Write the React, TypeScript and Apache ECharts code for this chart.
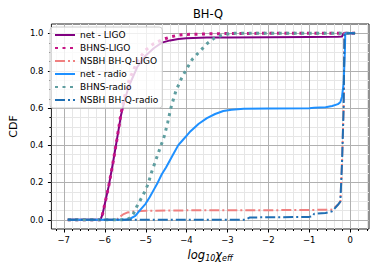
import React, { useEffect, useRef } from 'react';
import * as echarts from 'echarts';

// ---- data (log10 chi_eff, CDF) ----
const netLigoX = [-6.9, -6.1, -6.05, -6.0, -5.9, -5.8, -5.7, -5.6, -5.5, -5.4, -5.2, -5.0, -4.8, -4.6, -4.4, -4.2, -4.0, -3.5, -3.0, -2.0, -1.0, -0.3, -0.2, -0.16, 0.12];
const netLigoY = [0, 0, 0.03, 0.08, 0.18, 0.3, 0.43, 0.56, 0.65, 0.72, 0.82, 0.88, 0.92, 0.95, 0.962, 0.97, 0.973, 0.977, 0.978, 0.979, 0.98, 0.981, 0.983, 1.0, 1.0];

const bhnsLigoX = [-6.9, -6.1, -6.05, -6.0, -5.9, -5.8, -5.7, -5.6, -5.5, -5.4, -5.2, -5.0, -4.8, -4.6, -4.4, -4.2, -4.0, -3.5, -3.0, -2.0, 0.12];
const bhnsLigoY = [0, 0, 0.03, 0.08, 0.18, 0.3, 0.43, 0.57, 0.67, 0.75, 0.85, 0.91, 0.945, 0.965, 0.98, 0.99, 0.994, 0.997, 0.999, 1.0, 1.0];

const nsbhLigoX = [-6.9, -5.7, -5.65, -5.55, -5.45, -5.3, -5.0, -4.0, -3.0, -2.0, -1.0, -0.44, -0.3, -0.24, -0.2, -0.16, -0.14, 0.12];
const nsbhLigoY = [0, 0, 0.012, 0.028, 0.038, 0.044, 0.048, 0.05, 0.05, 0.051, 0.052, 0.054, 0.08, 0.097, 0.3, 0.6, 1.0, 1.0];

const netRadioX = [-6.9, -5.5, -5.38, -5.25, -5.14, -5.0, -4.9, -4.8, -4.7, -4.6, -4.5, -4.4, -4.3, -4.2, -4.1, -4.0, -3.9, -3.7, -3.5, -3.3, -3.1, -2.9, -2.6, -2.0, -1.0, -0.88, -0.6, -0.44, -0.3, -0.24, -0.2, -0.16, -0.13, -0.12, 0.12];
const netRadioY = [0, 0, 0.005, 0.02, 0.05, 0.085, 0.12, 0.16, 0.2, 0.245, 0.28, 0.32, 0.36, 0.4, 0.425, 0.45, 0.475, 0.515, 0.545, 0.567, 0.583, 0.59, 0.595, 0.597, 0.598, 0.6, 0.603, 0.61, 0.62, 0.63, 0.66, 0.73, 0.9, 1.0, 1.0];

const bhnsRadioX = [-6.9, -5.45, -5.35, -5.3, -5.22, -5.14, -5.02, -4.94, -4.86, -4.78, -4.7, -4.62, -4.54, -4.46, -4.38, -4.26, -4.14, -4.02, -3.86, -3.69, -3.49, -3.33, -3.13, -2.9, 0.12];
const bhnsRadioY = [0, 0, 0.015, 0.03, 0.068, 0.1, 0.15, 0.19, 0.25, 0.3, 0.35, 0.4, 0.45, 0.52, 0.6, 0.69, 0.75, 0.8, 0.86, 0.9, 0.946, 0.973, 0.99, 1.0, 1.0];

const nsbhRadioX = [-6.9, -2.55, -2.45, -1.0, -0.92, -0.88, -0.6, -0.44, -0.3, -0.24, -0.2, -0.16, -0.14, 0.12];
const nsbhRadioY = [0, 0, 0.012, 0.015, 0.018, 0.032, 0.036, 0.045, 0.08, 0.097, 0.3, 0.6, 1.0, 1.0];

const seriesNames = ['net - LIGO', 'BHNS-LIGO', 'NSBH BH-Q-LIGO', 'net - radio', 'BHNS-radio', 'NSBH BH-Q-radio'];

// ---- ticks ----
const xMajorTicks = [-7, -6, -5, -4, -3, -2, -1, 0];
const xMinorTicks = [-7.2, -6.8, -6.6, -6.4, -6.2, -5.8, -5.6, -5.4, -5.2, -4.8, -4.6, -4.4, -4.2, -3.8, -3.6, -3.4, -3.2, -2.8, -2.6, -2.4, -2.2, -1.8, -1.6, -1.4, -1.2, -0.8, -0.6, -0.4, -0.2, 0.2, 0.4];
const yMajorTicks = [0, 0.2, 0.4, 0.6, 0.8, 1.0];
const yMinorTicks = [0.05, 0.1, 0.15, 0.25, 0.3, 0.35, 0.45, 0.5, 0.55, 0.65, 0.7, 0.75, 0.85, 0.9, 0.95];

const X_MIN = -7.3;
const X_MAX = 0.46;
const Y_MIN = -0.05;
const Y_MAX = 1.05;

const FONT = 'DejaVu Sans';

function zip(xs: number[], ys: number[]) {
  return xs.map((x, i) => [x, ys[i]]);
}

function gridItems(major: number) {
  const xs = major ? xMajorTicks : xMinorTicks;
  const ys = major ? yMajorTicks : yMinorTicks;
  return [...xs.map((v) => [0, v, major]), ...ys.map((v) => [1, v, major])];
}

function makeRender(major: boolean) {
  return (params: any, api: any) => {
    const orient = api.value(0);
    const v = api.value(1);
    const tickLen = major ? 3.5 : 2;
    const gridColor = major ? '#b0b0b0' : '#e6e6e6';
    if (orient === 0) {
      const b = api.coord([v, Y_MIN]);
      const t = api.coord([v, Y_MAX]);
      const x = Math.round(b[0]) + 0.5;
      return {
        type: 'group',
        children: [
          { type: 'line', shape: { x1: x, y1: b[1], x2: x, y2: t[1] }, style: { stroke: gridColor, lineWidth: 1 } },
          { type: 'line', shape: { x1: x, y1: b[1], x2: x, y2: b[1] + tickLen }, style: { stroke: '#000', lineWidth: 1 } },
        ],
      };
    }
    const l = api.coord([X_MIN, v]);
    const r = api.coord([X_MAX, v]);
    const y = Math.round(l[1]) + 0.5;
    return {
      type: 'group',
      children: [
        { type: 'line', shape: { x1: l[0], y1: y, x2: r[0], y2: y }, style: { stroke: gridColor, lineWidth: 1 } },
        { type: 'line', shape: { x1: l[0], y1: y, x2: l[0] - tickLen, y2: y }, style: { stroke: '#000', lineWidth: 1 } },
      ],
    };
  };
}

export default function App() {
  const ref = useRef<HTMLDivElement>(null);
  useEffect(() => {
    document.body.style.margin = '0';
    if (!ref.current) return;
    const chart = echarts.init(ref.current, null, { renderer: 'svg' });
    const lineBase = { type: 'line', symbol: 'none', showSymbol: false, silent: true, z: 3 };
    chart.setOption({
      animation: false,
      title: {
        text: 'BH-Q',
        left: 208,
        top: 8,
        padding: 0,
        textAlign: 'center',
        textStyle: { fontFamily: FONT, fontSize: 11.5, fontWeight: 'normal', color: '#000' },
      },
      grid: {
        left: 47,
        right: 13,
        top: 24,
        bottom: 44,
        show: true,
        borderColor: '#222',
        borderWidth: 1,
        backgroundColor: 'transparent',
      },
      legend: {
        data: seriesNames,
        orient: 'vertical',
        left: 50,
        top: 27,
        padding: [2, 4, 2, 4],
        itemGap: 1,
        itemWidth: 20,
        itemHeight: 10,
        backgroundColor: 'rgba(255,255,255,0.8)',
        borderColor: '#cccccc',
        borderWidth: 1,
        borderRadius: 3,
        selectedMode: false,
        itemStyle: { opacity: 0 },
        textStyle: { fontFamily: FONT, fontSize: 9, color: '#000', lineHeight: 12 },
      },
      xAxis: {
        type: 'value',
        min: X_MIN,
        max: X_MAX,
        splitNumber: 8,
        axisLine: { show: false },
        axisTick: { show: false },
        splitLine: { show: false },
        axisLabel: {
          margin: 6,
          fontFamily: FONT,
          fontSize: 8.5,
          color: '#000',
          formatter: (v: number) => {
            if (Math.abs(v - Math.round(v)) > 1e-6) return '';
            const r = Math.round(v);
            return r < 0 ? '\u2212' + Math.abs(r) : String(r);
          },
        },
        name: '{i|log}{s|10}{i|χ}{s|eff}',
        nameLocation: 'middle',
        nameGap: 14,
        nameTextStyle: {
          rich: {
            i: { fontFamily: FONT, fontStyle: 'italic', fontSize: 11.5, color: '#000', verticalAlign: 'top', lineHeight: 14 },
            s: { fontFamily: FONT, fontStyle: 'italic', fontSize: 8, color: '#000', verticalAlign: 'top', lineHeight: 9, padding: [6, 0, 0, 0] },
          },
        },
      },
      yAxis: {
        type: 'value',
        min: Y_MIN,
        max: Y_MAX,
        splitNumber: 5,
        axisLine: { show: false },
        axisTick: { show: false },
        splitLine: { show: false },
        axisLabel: {
          margin: 8,
          fontFamily: FONT,
          fontSize: 8.5,
          color: '#000',
          formatter: (v: number) => {
            if (Math.abs(v * 5 - Math.round(v * 5)) > 1e-6) return '';
            return v.toFixed(1);
          },
        },
        name: 'CDF',
        nameLocation: 'middle',
        nameGap: 26,
        nameTextStyle: { fontFamily: FONT, fontSize: 11, color: '#000' },
      },
      series: [
        {
          type: 'custom',
          name: 'minorGrid',
          silent: true,
          z: 1,
          renderItem: makeRender(false),
          data: gridItems(0),
          encode: { x: 1, y: 2 },
        },
        {
          type: 'custom',
          name: 'majorGrid',
          silent: true,
          z: 1,
          renderItem: makeRender(true),
          data: gridItems(1),
          encode: { x: 1, y: 2 },
        },
        {
          ...lineBase,
          name: seriesNames[0],
          data: zip(netLigoX, netLigoY),
          color: '#800080',
          lineStyle: { color: '#800080', width: 2 },
        },
        {
          ...lineBase,
          name: seriesNames[1],
          data: zip(bhnsLigoX, bhnsLigoY),
          color: '#c71585',
          lineStyle: { color: '#c71585', width: 3, type: [3, 4.5] },
        },
        {
          ...lineBase,
          name: seriesNames[2],
          data: zip(nsbhLigoX, nsbhLigoY),
          color: '#f08080',
          lineStyle: { color: '#f08080', width: 2, type: [10, 3, 2, 3] },
        },
        {
          ...lineBase,
          name: seriesNames[3],
          data: zip(netRadioX, netRadioY),
          color: '#1e90ff',
          lineStyle: { color: '#1e90ff', width: 2 },
        },
        {
          ...lineBase,
          name: seriesNames[4],
          data: zip(bhnsRadioX, bhnsRadioY),
          color: '#5f9ea0',
          lineStyle: { color: '#5f9ea0', width: 3, type: [3, 4.5] },
        },
        {
          ...lineBase,
          name: seriesNames[5],
          data: zip(nsbhRadioX, nsbhRadioY),
          color: '#1f6fb4',
          lineStyle: { color: '#1f6fb4', width: 2, type: [10, 3, 2, 3] },
        },
      ],
    });
    return () => chart.dispose();
  }, []);
  return <div ref={ref} style={{ width: 382, height: 273 }} />;
}
